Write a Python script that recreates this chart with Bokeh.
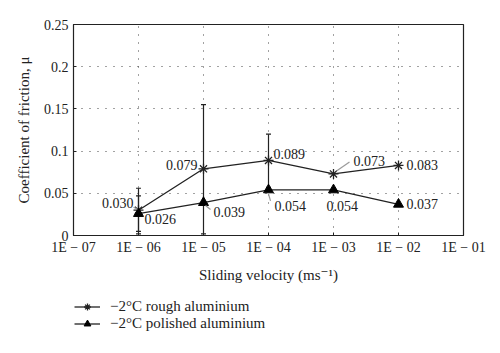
import numpy as np
from bokeh.plotting import figure
from bokeh.layouts import column
from bokeh.models import (ColumnDataSource, FixedTicker, CustomJSTickFormatter, Legend, LegendItem, Range1d)
from bokeh.core.properties import value
from bokeh.embed import file_html
from bokeh.resources import INLINE

velocity = [1e-6, 1e-5, 1e-4, 1e-3, 1e-2]
rough = [0.030, 0.079, 0.089, 0.073, 0.083]
polished = [0.026, 0.039, 0.054, 0.054, 0.037]
rough_err_v = [1e-6, 1e-5, 1e-4]
rough_err_lo = [0.002, 0.002, 0.057]
rough_err_hi = [0.056, 0.155, 0.120]
pol_err_v = [1e-6]
pol_err_lo = [0.005]
pol_err_hi = [0.047]
x_ticks = [1e-7, 1e-6, 1e-5, 1e-4, 1e-3, 1e-2, 1e-1]
y_ticks = [0, 0.05, 0.1, 0.15, 0.2, 0.25]
rough_labels = ["0.030", "0.079", "0.089", "0.073", "0.083"]
pol_labels = ["0.026", "0.039", "0.054", "0.054", "0.037"]
series_names = ["\u22122\u00b0C rough aluminium", "\u22122\u00b0C polished aluminium"]

FONT = "'Liberation Serif', 'DejaVu Serif', serif"
INK = "#222222"

p = figure(width=500, height=285, x_axis_type="log", output_backend="svg",
           toolbar_location=None, x_range=Range1d(1e-7, 1e-1), y_range=Range1d(0, 0.25))
p.min_border_left = 73
p.min_border_right = 37
p.min_border_top = 24
p.min_border_bottom = 50
p.outline_line_color = INK
p.outline_line_width = 1.2
p.background_fill_color = "white"
p.border_fill_color = "white"

p.xaxis.ticker = FixedTicker(ticks=x_ticks)
p.xaxis.formatter = CustomJSTickFormatter(code="""
const e = Math.round(-Math.log10(tick));
return "1E \u2212 " + String(e).padStart(2, "0");
""")
p.xaxis.minor_tick_line_color = None
p.yaxis.ticker = FixedTicker(ticks=y_ticks)
p.yaxis.minor_tick_line_color = None
for ax in (p.xaxis, p.yaxis):
    ax.major_tick_out = 0
    ax.major_tick_in = 3
    ax.major_tick_line_color = INK
    ax.axis_line_color = INK
    ax.major_label_text_font = FONT
    ax.major_label_text_font_size = "14px"
    ax.major_label_text_color = INK
    ax.axis_label_text_font = FONT
    ax.axis_label_text_font_size = "15px"
    ax.axis_label_text_font_style = "normal"
    ax.axis_label_text_color = INK
p.xaxis.major_label_standoff = 4
p.yaxis.major_label_standoff = 5
p.xaxis.axis_label = "Sliding velocity (ms\u207b\u00b9)"
p.yaxis.axis_label = "Coefficient of friction, \u03bc"
p.xaxis.axis_label_standoff = 9
p.yaxis.axis_label_standoff = 9

p.grid.grid_line_color = "#444444"
p.grid.grid_line_dash = "1 7"
p.grid.grid_line_width = 1

# error bars
for xs, lo, hi in ((rough_err_v, rough_err_lo, rough_err_hi), (pol_err_v, pol_err_lo, pol_err_hi)):
    p.segment(x0=xs, y0=lo, x1=xs, y1=hi, line_color=INK, line_width=1.2)
    p.scatter(x=xs, y=lo, marker="dash", size=5, line_color=INK, line_width=1.2)
    p.scatter(x=xs, y=hi, marker="dash", size=5, line_color=INK, line_width=1.2)

src_rough = ColumnDataSource(dict(x=velocity, y=rough))
src_pol = ColumnDataSource(dict(x=velocity, y=polished))
p.line("x", "y", source=src_rough, line_color=INK, line_width=1.3)
p.scatter("x", "y", source=src_rough, marker="asterisk", size=10, line_color=INK, line_width=1.3)
p.line("x", "y", source=src_pol, line_color=INK, line_width=1.3)
p.scatter("x", "y", source=src_pol, marker="triangle", size=10, fill_color="black", line_color="black")

# leader lines (gray), offsets in px converted to data units
px_x = 10 ** (1 / 65.0)
px_y = 0.25 / 211.0
lead = [
    (0, rough, (-5, 3), (-1, 1)),
    (3, rough, (3, 3), (16, 12)),
    (1, polished, (2, -3), (7, -7)),
    (2, polished, (0, -4), (2, -11)),
]
for i, series, a, b in lead:
    x0 = velocity[i] * px_x ** a[0]
    y0 = series[i] + a[1] * px_y
    x1 = velocity[i] * px_x ** b[0]
    y1 = series[i] + b[1] * px_y
    p.segment(x0=[x0], y0=[y0], x1=[x1], y1=[y1], line_color="#9a9a9a", line_width=1.2)

src_r = ColumnDataSource(dict(x=velocity, y=rough, t=rough_labels,
                              xo=[-5, -6, 5, 20, 8], yo=[-7, -4, -6, -13, 0],
                              al=["right", "right", "left", "left", "left"]))
p.text(x="x", y="y", text="t", x_offset="xo", y_offset="yo", text_align="al",
       text_baseline="middle", text_font=value(FONT), text_font_size="14px",
       text_color=INK, source=src_r)
src_p = ColumnDataSource(dict(x=velocity, y=polished, t=pol_labels,
                              xo=[6, 10, 6, -7, 8], yo=[5, 9, 16, 16, 0],
                              al=["left", "left", "left", "left", "left"]))
p.text(x="x", y="y", text="t", x_offset="xo", y_offset="yo", text_align="al",
       text_baseline="middle", text_font=value(FONT), text_font_size="14px",
       text_color=INK, source=src_p)

# legend in a separate strip below (same series, out of its visible range)
lg = figure(width=500, height=68, output_backend="svg", toolbar_location=None,
            x_range=Range1d(0, 1), y_range=Range1d(10, 11))
lg.axis.visible = False
lg.grid.visible = False
lg.outline_line_color = None
lg.min_border = 0
lg.border_fill_color = "white"
lg.background_fill_color = "white"
l1 = lg.line("x", "y", source=src_rough, line_color=INK, line_width=1.3)
m1 = lg.scatter("x", "y", source=src_rough, marker="asterisk", size=10, line_color=INK, line_width=1.3)
l2 = lg.line("x", "y", source=src_pol, line_color=INK, line_width=1.3)
m2 = lg.scatter("x", "y", source=src_pol, marker="triangle", size=10, fill_color="black", line_color="black")
legend = Legend(items=[LegendItem(label=series_names[0], renderers=[l1, m1]),
                       LegendItem(label=series_names[1], renderers=[l2, m2])],
                location=(1, 21))
legend.border_line_color = None
legend.background_fill_alpha = 0
legend.padding = 0
legend.margin = 0
legend.spacing = 0
legend.label_height = 17
legend.glyph_height = 17
legend.glyph_width = 26
legend.label_standoff = 10
legend.label_text_font = FONT
legend.label_text_font_size = "15px"
legend.label_text_color = INK
lg.add_layout(legend, "center")

layout = column(p, lg, spacing=0)
open("out.html", "w").write(file_html(layout, INLINE))
